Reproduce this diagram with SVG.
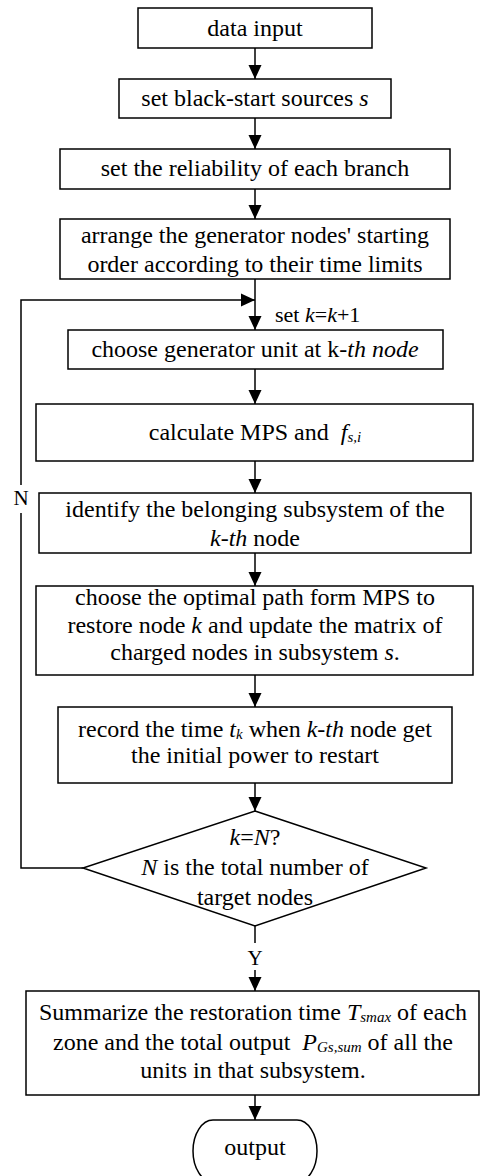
<svg xmlns="http://www.w3.org/2000/svg" width="480" height="1176" viewBox="0 0 480 1176">
<style>
.b{fill:#fff;stroke:#000;stroke-width:1.5}
.c{fill:none;stroke:#000;stroke-width:1.5}
text{font-family:"Liberation Serif","Times New Roman",serif;font-size:24px;fill:#000;text-anchor:middle}
.i{font-style:italic}
.sub{font-style:italic;font-size:15px}
.lbl{font-size:21px}
</style>
<defs>
<marker id="ah" markerUnits="userSpaceOnUse" markerWidth="14" markerHeight="14" viewBox="0 0 14 13" refX="14" refY="6.5" orient="auto">
<path d="M0,0 L14,6.5 L0,13 Z" fill="#000"/>
</marker>
</defs>
<rect width="480" height="1176" fill="#fff"/>
<g id="connectors">
<line class="c" x1="255" y1="48" x2="255" y2="79" marker-end="url(#ah)"/>
<line class="c" x1="255" y1="118" x2="255" y2="149" marker-end="url(#ah)"/>
<line class="c" x1="255" y1="189" x2="255" y2="219" marker-end="url(#ah)"/>
<line class="c" x1="255" y1="279" x2="255" y2="330" marker-end="url(#ah)"/>
<line class="c" x1="255" y1="369" x2="255" y2="404" marker-end="url(#ah)"/>
<line class="c" x1="255" y1="461" x2="255" y2="493" marker-end="url(#ah)"/>
<line class="c" x1="255" y1="553" x2="255" y2="586" marker-end="url(#ah)"/>
<line class="c" x1="255" y1="675" x2="255" y2="707" marker-end="url(#ah)"/>
<line class="c" x1="255" y1="783" x2="255" y2="811" marker-end="url(#ah)"/>
<line class="c" x1="255" y1="926" x2="255" y2="943"/>
<line class="c" x1="255" y1="970" x2="255" y2="991" marker-end="url(#ah)"/>
<line class="c" x1="255" y1="1095" x2="255" y2="1120" marker-end="url(#ah)"/>
<polyline class="c" points="83,868 21,868 21,513"/>
<polyline class="c" points="21,485 21,300 255,300" marker-end="url(#ah)"/>
<text class="lbl" x="21" y="505">N</text>
<text class="lbl" x="255" y="965">Y</text>
<text x="275" y="322" style="text-anchor:start;font-size:22px">set <tspan class="i">k</tspan>=<tspan class="i">k</tspan>+1</text>
</g>
<g id="n1">
<rect class="b" x="138" y="8" width="234" height="40"/>
<text x="255" y="36">data input</text>
</g>
<g id="n2">
<rect class="b" x="119" y="79" width="272" height="39"/>
<text x="255" y="106">set black-start sources <tspan class="i">s</tspan></text>
</g>
<g id="n3">
<rect class="b" x="60" y="149" width="390" height="40"/>
<text x="255" y="176">set the reliability of each branch</text>
</g>
<g id="n4">
<rect class="b" x="60" y="219" width="390" height="60"/>
<text x="255" y="243">arrange the generator nodes' starting</text>
<text x="255" y="272">order according to their time limits</text>
</g>
<g id="n5">
<rect class="b" x="68" y="330" width="375" height="39"/>
<text x="255" y="357">choose generator unit at k-<tspan class="i">th node</tspan></text>
</g>
<g id="n6">
<rect class="b" x="36" y="404" width="437" height="57"/>
<text x="255" y="440">calculate MPS and <tspan class="i" dx="6">f</tspan><tspan class="sub" dy="2">s,i</tspan></text>
</g>
<g id="n7">
<rect class="b" x="39" y="493" width="432" height="60"/>
<text x="255" y="517">identify the belonging subsystem of the</text>
<text x="255" y="546"><tspan class="i">k-th</tspan> node</text>
</g>
<g id="n8">
<rect class="b" x="36" y="586" width="437" height="89"/>
<text x="255" y="605">choose the optimal path form MPS to</text>
<text x="255" y="633">restore node <tspan class="i">k</tspan> and update the matrix of</text>
<text x="255" y="660">charged nodes in subsystem <tspan class="i">s</tspan>.</text>
</g>
<g id="n9">
<rect class="b" x="58" y="707" width="394" height="76"/>
<text x="255" y="737">record the time <tspan class="i">t</tspan><tspan class="sub" dy="2">k</tspan><tspan dy="-2"> when </tspan><tspan class="i">k-th</tspan> node get</text>
<text x="255" y="763">the initial power to restart</text>
</g>
<g id="n10">
<polygon class="b" points="255,811 426,868 255,926 83,868"/>
<text x="255" y="845"><tspan class="i">k</tspan>=<tspan class="i">N</tspan>?</text>
<text x="255" y="875"><tspan class="i">N</tspan> is the total number of</text>
<text x="255" y="905">target nodes</text>
</g>
<g id="n11">
<rect class="b" x="26" y="991" width="453" height="104"/>
<text x="253" y="1020">Summarize the restoration time <tspan class="i">T</tspan><tspan class="sub" dy="2">smax</tspan><tspan dy="-2"> of each</tspan></text>
<text x="253" y="1050">zone and the total output <tspan class="i" dx="6">P</tspan><tspan class="sub" dy="2">Gs,sum</tspan><tspan dy="-2"> of all the</tspan></text>
<text x="253" y="1078">units in that subsystem.</text>
</g>
<g id="n12">
<path class="b" d="M213,1120 H297 A20,31 0 0 1 297,1182 H213 A20,31 0 0 1 213,1120 Z"/>
<text x="255" y="1155">output</text>
</g>
</svg>
